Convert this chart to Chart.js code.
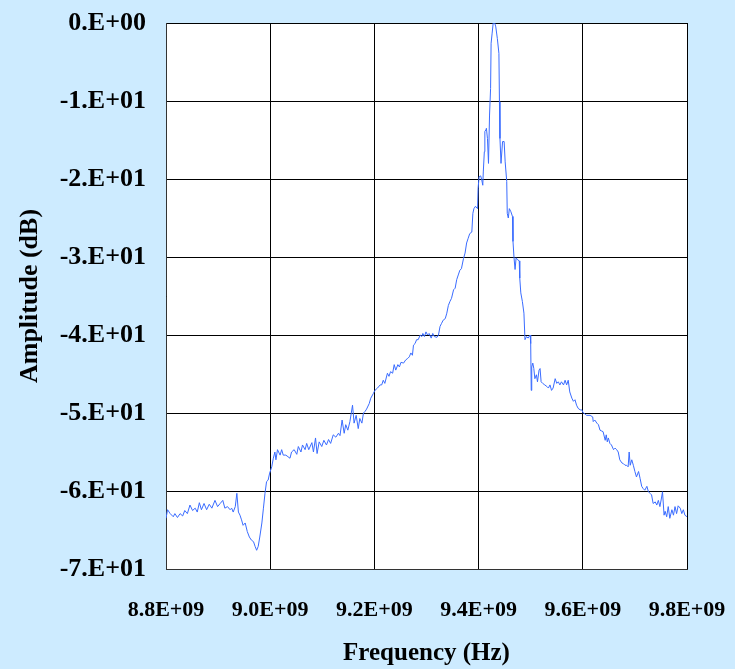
<!DOCTYPE html>
<html lang="en">
<head>
    <meta charset="UTF-8">
    <title>Amplitude vs Frequency</title>
    <script src="https://cdn.jsdelivr.net/npm/chart.js"></script>
    <style>
        body { margin: 0; background: #cdebff; }
        #grafico { display: block; }
    </style>
</head>
<body>
    <canvas id="grafico" width="735" height="669"></canvas>

    <script>
        // frequencies in MHz
        const freqMHz = [
            8800, 8803, 8808, 8814, 8817, 8822, 8827, 8832, 8836, 8841, 8846, 8851, 8856, 8860, 8864, 8868,
            8873, 8878, 8883, 8888, 8894, 8899, 8904, 8909, 8913, 8918, 8923, 8926, 8929, 8933, 8936, 8939,
            8942, 8945, 8948, 8952, 8956, 8960, 8964, 8968, 8971, 8974, 8977, 8980, 8984, 8987, 8990, 8993,
            8996, 8999,
            9003, 9006, 9009, 9011, 9014, 9019, 9022, 9025, 9030, 9034, 9038, 9041, 9046, 9051, 9054, 9059,
            9062, 9067, 9070, 9074, 9080, 9083, 9087, 9090, 9094, 9099, 9103, 9108, 9112, 9116, 9121, 9126,
            9131, 9134, 9138, 9142, 9145, 9149, 9153, 9158, 9161, 9165, 9169, 9172, 9176, 9179, 9182, 9185,
            9190, 9193, 9198, 9201, 9206, 9211,
            9214, 9217, 9220, 9225, 9228, 9231, 9235, 9238, 9241, 9245, 9248, 9251, 9256, 9260, 9264, 9267,
            9270, 9273, 9275, 9278, 9281, 9284, 9288, 9291, 9293, 9296, 9299, 9302, 9305, 9309, 9312, 9315,
            9320, 9323, 9326, 9329, 9332, 9336, 9339, 9342, 9345, 9348, 9352, 9355, 9358, 9361, 9364, 9367,
            9371, 9374, 9377, 9380, 9383,
            9387, 9389, 9391, 9394, 9398, 9399, 9401, 9404, 9406, 9408, 9409, 9411, 9412, 9414, 9415, 9417,
            9419, 9421, 9423, 9424, 9426, 9428, 9431, 9433, 9436, 9439, 9440, 9441, 9443, 9446, 9449, 9451,
            9454, 9455, 9457, 9459, 9462, 9465, 9466, 9468, 9470, 9472, 9474, 9478, 9479, 9481, 9484, 9487,
            9489, 9492, 9495, 9499,
            9500, 9501, 9502, 9504, 9506, 9508, 9511, 9513, 9516, 9518, 9520, 9523, 9527, 9531, 9534, 9537,
            9540, 9543, 9547, 9550, 9553, 9556, 9559, 9563, 9566, 9569, 9572, 9575, 9579, 9582, 9585, 9588,
            9591, 9595, 9598, 9601, 9604, 9607, 9614, 9619,
            9620, 9623, 9627, 9630, 9633, 9636, 9639, 9643, 9645, 9647, 9649, 9652, 9655, 9659, 9662, 9665,
            9668, 9671, 9675, 9678, 9681, 9684, 9687, 9689, 9691, 9694, 9697, 9700, 9703, 9707, 9710, 9713,
            9716, 9719, 9723, 9726, 9729, 9732, 9735, 9739, 9742, 9745, 9748, 9751, 9753, 9756, 9758, 9761,
            9764, 9767, 9771, 9774, 9777, 9780, 9783, 9787, 9790, 9793, 9796, 9800
        ];

        // amplitude in dB
        const ampDb = [
            -63.5, -62.4, -62.9, -63.3, -62.9, -63.4, -62.9, -63.2, -62.5, -62.9, -61.8, -62.5, -62.2, -62.7, -61.5, -62.4,
            -61.6, -62.4, -61.7, -62.2, -61.2, -62.0, -61.6, -61.2, -62.2, -62.0, -62.4, -62.2, -62.7, -62.0, -60.3, -62.7,
            -63.1, -63.7, -64.4, -64.1, -65.2, -65.9, -66.3, -66.5, -67.1, -67.6, -67.1, -65.9, -64.1, -62.2, -60.3, -58.8,
            -58.6, -57.7,
            -56.9, -55.8, -55.0, -56.0, -54.7, -55.4, -54.7, -55.4, -55.4, -55.6, -55.8, -55.0, -54.7, -55.3, -54.3, -55.0,
            -54.1, -54.7, -53.9, -54.7, -53.8, -55.0, -53.2, -55.2, -53.7, -54.3, -53.5, -54.1, -53.4, -53.9, -52.8, -53.1,
            -52.6, -52.9, -50.9, -52.6, -51.5, -52.2, -51.1, -49.0, -51.3, -50.3, -52.0, -50.7, -51.3, -50.0, -49.8, -49.5,
            -48.8, -48.1, -47.5, -47.1, -46.8, -46.4,
            -46.4, -45.8, -46.2, -44.9, -45.3, -44.7, -44.9, -43.8, -44.5, -43.8, -44.1, -43.5, -43.6, -43.2, -43.0, -42.8,
            -42.3, -42.6, -41.3, -41.1, -40.6, -40.6, -40.0, -40.2, -39.8, -40.2, -39.6, -40.0, -39.8, -40.4, -39.8, -40.2,
            -40.3, -40.0, -38.9, -38.5, -38.1, -37.9, -37.2, -36.2, -35.7, -35.3, -34.2, -34.0, -32.9, -32.3, -31.7, -31.5,
            -30.2, -29.5, -28.2, -27.6, -27.0,
            -26.8, -24.4, -23.8, -23.5, -23.8, -21.2, -19.7, -19.6, -20.1, -20.8, -19.1, -16.5, -13.9, -13.7, -13.5, -14.8,
            -18.0, -11.8, -8.4, -2.6, -1.3, 0.0, 0.0, -0.5, -2.0, -3.9, -10.1, -14.8, -18.0, -15.2, -15.2, -17.8,
            -20.3, -24.4, -25.0, -23.8, -24.2, -24.8, -28.0, -30.1, -31.6, -30.1, -30.3, -30.5, -32.7, -34.6, -35.7, -37.2,
            -40.6, -40.2, -40.4, -40.0,
            -41.1, -47.1, -44.1, -43.6, -44.3, -45.6, -45.1, -46.0, -44.5, -44.3, -46.0, -46.2, -46.4, -46.6, -46.8, -46.4,
            -47.1, -46.8, -45.6, -46.2, -46.0, -46.4, -46.0, -46.4, -45.8, -46.4, -45.8, -47.3, -48.1, -48.5, -48.3, -49.0,
            -49.4, -49.6, -49.6, -50.0, -50.1, -50.3, -50.3, -50.5,
            -51.1, -50.9, -51.3, -51.5, -52.2, -52.3, -52.4, -53.5, -52.8, -53.7, -53.2, -53.9, -54.1, -54.7, -54.5, -54.7,
            -55.0, -56.0, -56.4, -56.5, -56.7, -56.7, -56.9, -55.0, -56.7, -56.0, -56.7, -57.5, -58.2, -57.5, -58.4, -59.4,
            -59.7, -59.9, -59.4, -60.1, -60.3, -60.5, -61.6, -61.4, -61.8, -61.2, -62.0, -60.9, -60.1, -63.1, -62.6, -63.3,
            -62.0, -63.5, -62.4, -63.1, -62.0, -62.9, -61.9, -62.2, -62.9, -62.4, -63.1, -63.3
        ];

        const xTicks = [8.8e9, 9.0e9, 9.2e9, 9.4e9, 9.6e9, 9.8e9];
        const xTickLabels = ['8.8E+09', '9.0E+09', '9.2E+09', '9.4E+09', '9.6E+09', '9.8E+09'];
        const yTicks = [0, -10, -20, -30, -40, -50, -60, -70];
        const yTickLabels = ['0.E+00', '-1.E+01', '-2.E+01', '-3.E+01', '-4.E+01', '-5.E+01', '-6.E+01', '-7.E+01'];

        const pontos = freqMHz.map((f, i) => ({ x: f * 1e6, y: ampDb[i] }));

        function rotulo(lista, labels, valor) {
            let melhor = 0;
            for (let i = 1; i < lista.length; i++) {
                if (Math.abs(lista[i] - valor) < Math.abs(lista[melhor] - valor)) melhor = i;
            }
            return labels[melhor];
        }

        // white plot area on the blue background
        const fundoPlot = {
            id: 'fundoPlot',
            beforeDraw(chart) {
                const { ctx, chartArea } = chart;
                ctx.save();
                ctx.fillStyle = '#cdebff';
                ctx.fillRect(0, 0, chart.width, chart.height);
                ctx.fillStyle = '#ffffff';
                ctx.fillRect(chartArea.left, chartArea.top, chartArea.right - chartArea.left, chartArea.bottom - chartArea.top);
                ctx.restore();
            }
        };

        // labels may overflow the plot edges, do not let the layout shrink for them
        function semSobra(axis) {
            axis.paddingTop = 0;
            axis.paddingBottom = 0;
            axis.paddingLeft = 0;
            axis.paddingRight = 0;
        }

        const fonteTick = { family: "'Liberation Serif', 'Times New Roman', serif", weight: 'bold' };

        new Chart(document.getElementById('grafico'), {
            type: 'line',
            data: {
                datasets: [{
                    data: pontos,
                    borderColor: '#3a6cff',
                    borderWidth: 1,
                    pointRadius: 0,
                    tension: 0,
                    fill: false
                }]
            },
            options: {
                responsive: false,
                animation: false,
                layout: { padding: { left: 0, top: 23, right: 48, bottom: 0 } },
                plugins: { legend: { display: false }, tooltip: { enabled: false } },
                scales: {
                    x: {
                        type: 'linear',
                        min: 8.8e9,
                        max: 9.8e9,
                        afterBuildTicks(axis) { axis.ticks = xTicks.map(v => ({ value: v })); },
                        afterFit(axis) { axis.height = 100; semSobra(axis); },
                        grid: { color: '#000', lineWidth: 1, drawTicks: false },
                        border: { color: '#333', width: 1 },
                        ticks: {
                            color: '#000',
                            padding: 28,
                            maxRotation: 0,
                            autoSkip: false,
                            font: { ...fonteTick, size: 22 },
                            callback: v => rotulo(xTicks, xTickLabels, v)
                        },
                        title: {
                            display: true,
                            text: 'Frequency (Hz)',
                            color: '#000',
                            font: { ...fonteTick, size: 25 },
                            padding: { top: 0, bottom: 0 }
                        }
                    },
                    y: {
                        min: -70,
                        max: 0,
                        afterBuildTicks(axis) { axis.ticks = yTicks.slice().reverse().map(v => ({ value: v })); },
                        afterFit(axis) { axis.width = 166; semSobra(axis); },
                        grid: { color: '#000', lineWidth: 1, drawTicks: false },
                        border: { color: '#333', width: 1 },
                        ticks: {
                            color: '#000',
                            padding: 20,
                            font: { ...fonteTick, size: 26 },
                            callback: v => rotulo(yTicks, yTickLabels, v)
                        },
                        title: {
                            display: true,
                            text: 'Amplitude (dB)',
                            color: '#000',
                            font: { ...fonteTick, size: 26 },
                            padding: { top: 15, bottom: 0 }
                        }
                    }
                }
            },
            plugins: [fundoPlot]
        });
    </script>
</body>
</html>
